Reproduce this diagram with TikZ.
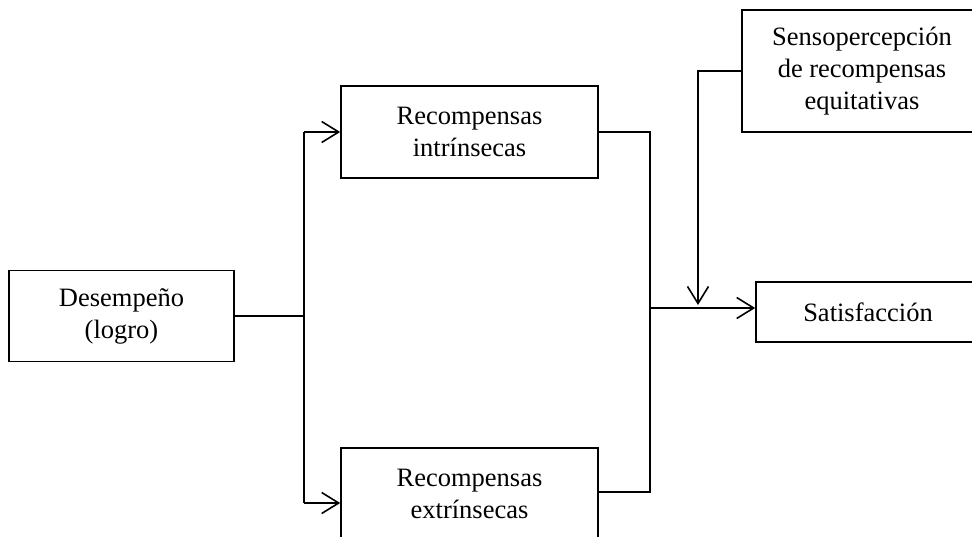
\documentclass[tikz,border=0pt]{standalone}
\usepackage{fontspec}
\setmainfont{Liberation Serif}
\usetikzlibrary{arrows.meta}
\begin{document}
\begin{tikzpicture}[x=1pt,y=-1pt,
  box/.style={draw, line width=1.6pt, rectangle, align=center, inner sep=0pt,
    font=\fontsize{26.5}{32}\selectfont},
  link/.style={draw, line width=1.6pt},
  arr/.style={link, -{Straight Barb[length=17pt,width=21pt,line width=1.6pt]}}]
\clip (0,0) rectangle (972,537);
\fill[white] (0,0) rectangle (972,537);

% boxes
\node[box, minimum width=225pt, minimum height=91pt] (des) at (121.5,316) {Desempeño\\(logro)};
\node[box, minimum width=257pt, minimum height=92pt] (intr) at (469.5,132) {Recompensas\\intrínsecas};
\node[box, minimum width=257pt, minimum height=92pt] (extr) at (469.5,494) {Recompensas\\extrínsecas};
\node[box, minimum width=224pt, minimum height=60pt] (sat) at (868,312) {Satisfacción};
\node[box, minimum width=240pt, minimum height=122pt] (sens) at (862,71) {Sensopercepción\\de recompensas\\equitativas};

% junction points
\coordinate (tl) at (304,132);
\coordinate (bl) at (304,503);
\coordinate (tr) at (650,132);
\coordinate (br) at (650,492);
\coordinate (jm) at (650,308);
\coordinate (down) at (698,305);

% connectors
\draw[link] (des.east) -- (tl |- des.east);
\draw[link] (tl) -- (bl);
\draw[arr] (tl) -- (intr.west |- tl);
\draw[arr] (bl) -- (extr.west |- bl);
\draw[link] (intr.east |- tr) -- (tr) -- (br) -- (extr.east |- br);
\draw[arr] (jm) -- (sat.west |- jm);
\draw[arr] (sens.west) -| (down);
\end{tikzpicture}
\end{document}
